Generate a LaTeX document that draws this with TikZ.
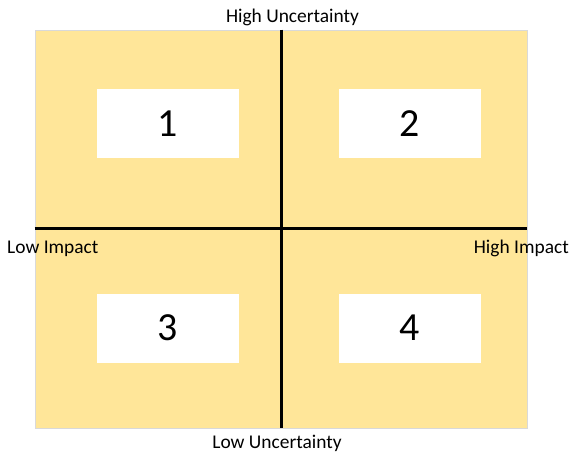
\documentclass[tikz,border=0pt]{standalone}
\usepackage{fontspec}
\setmainfont{Carlito}
\usepackage{tikz}

\definecolor{fieldyellow}{HTML}{FFE699}
\definecolor{fieldgray}{HTML}{D9D9D9}

\begin{document}
\begin{tikzpicture}[x=1bp,y=-1bp,
    quad/.style={fill=white, minimum width=142bp, minimum height=69bp,
        inner sep=0pt, font=\fontsize{40}{40}\selectfont},
    axislabel/.style={inner sep=0pt, font=\fontsize{19.5}{20}\selectfont},
    axisline/.style={line width=3bp, black}]
    \useasboundingbox (0,0) rectangle (571,453);
    % Draw the background field
    \node (field) [fill=fieldyellow, draw=fieldgray, line width=0.8bp,
        minimum width=492bp, minimum height=398bp, inner sep=0pt] at (281,229) {};
    % Draw the four quadrant boxes
    \node (q1) [quad] at (168,124) {1};
    \node (q2) [quad] at (410,124) {2};
    \node (q3) [quad] at (168,328) {3};
    \node (q4) [quad] at (410,328) {4};
    % Draw axes through the middle of the field
    \draw [axisline] (field.north) -- (field.south);
    \draw [axisline] (field.west) -- (field.east);
    % Label the ends of the axes
    \node (highunc) [axislabel, anchor=base] at (292.5,23) {High Uncertainty};
    \node (lowunc) [axislabel, anchor=base] at (277,448) {Low Uncertainty};
    \node (lowimp) [axislabel, anchor=base west] at (7,254) {Low Impact};
    \node (highimp) [axislabel, anchor=base east] at (569,254) {High Impact};
\end{tikzpicture}
\end{document}
